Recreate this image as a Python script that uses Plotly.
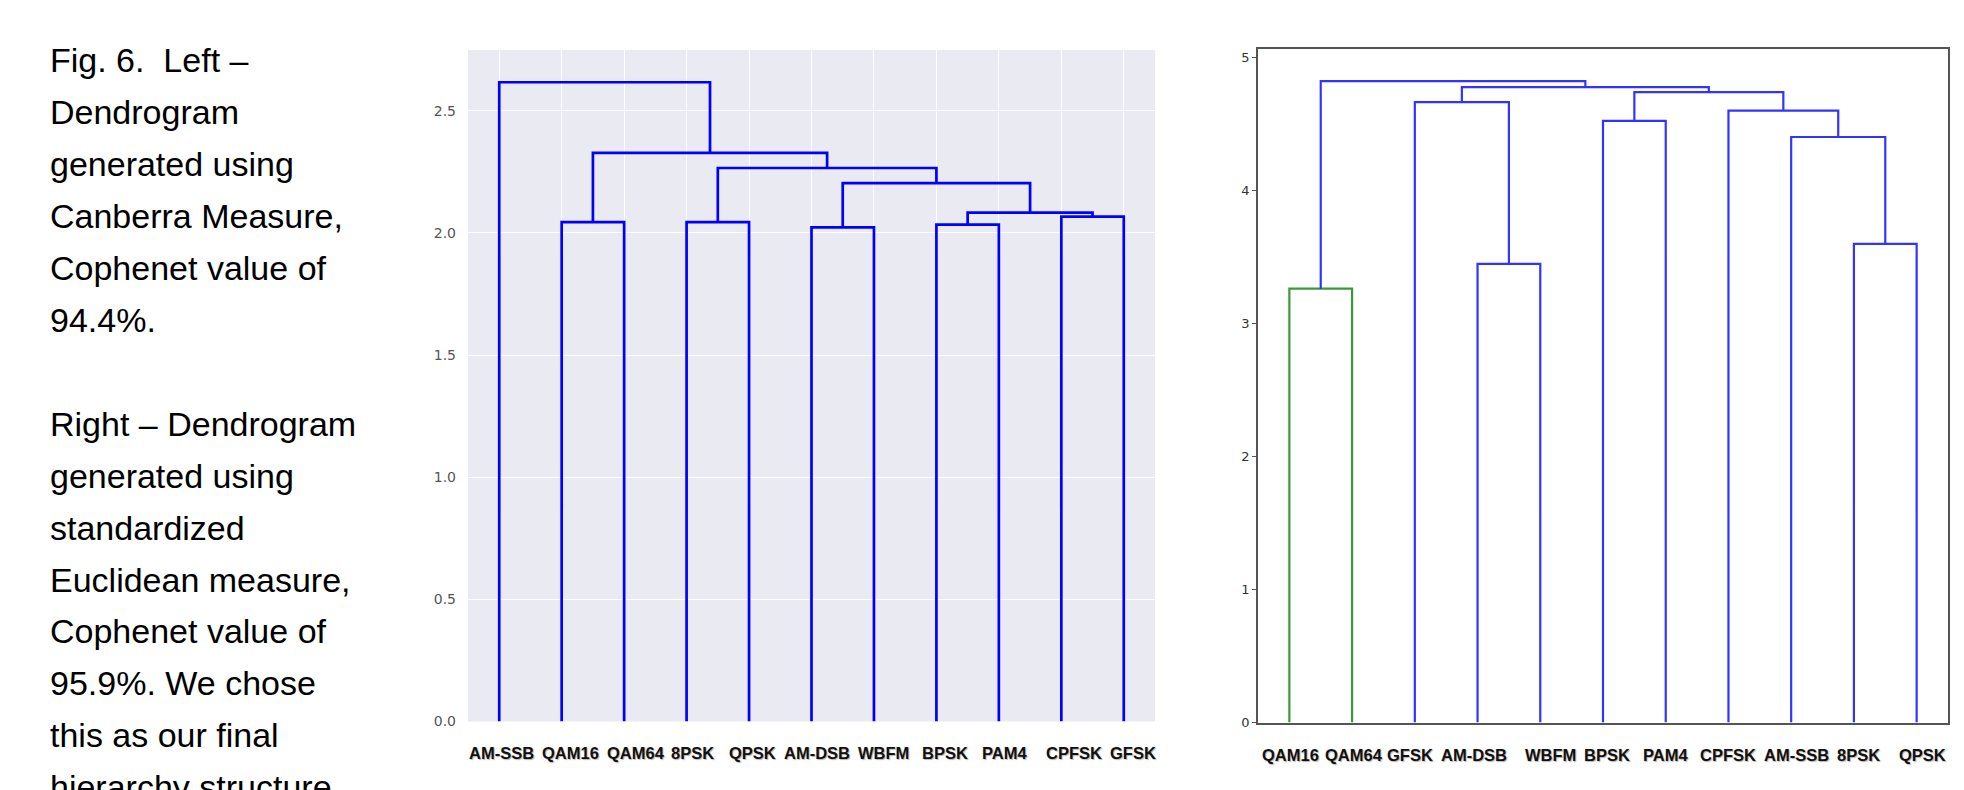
import plotly.graph_objects as go

# ---------------- data ----------------
left_leaves = ["AM-SSB", "QAM16", "QAM64", "8PSK", "QPSK", "AM-DSB",
               "WBFM", "BPSK", "PAM4", "CPFSK", "GFSK"]
# label centres as placed under the leaves (x data units)
left_label_x = [5.4, 16.4, 26.9, 35.9, 45.5, 55.8, 66.5, 76.4, 85.9, 97.0, 106.4]
# merges: child a, child b (leaf index or 11+ merge id), height
left_merge_a = [5, 7, 1, 3, 9, 12, 11, 14, 13, 0]
left_merge_b = [6, 8, 2, 4, 10, 15, 16, 17, 18, 19]
left_merge_h = [2.023, 2.034, 2.044, 2.044, 2.067, 2.083, 2.204, 2.266, 2.328, 2.617]
left_merge_c = ["b"] * 10
left_yticks = [0.0, 0.5, 1.0, 1.5, 2.0, 2.5]

right_leaves = ["QAM16", "QAM64", "GFSK", "AM-DSB", "WBFM", "BPSK",
                "PAM4", "CPFSK", "AM-SSB", "8PSK", "QPSK"]
right_label_x = [5.15, 15.3, 24.3, 34.4, 46.6, 55.7, 65.0, 75.0, 85.9, 95.8, 105.9]
right_merge_a = [0, 3, 9, 8, 5, 7, 2, 15, 17, 11]
right_merge_b = [1, 4, 10, 13, 6, 14, 12, 16, 18, 19]
right_merge_h = [3.263, 3.449, 3.600, 4.404, 4.526, 4.602, 4.667, 4.742, 4.779, 4.825]
right_merge_c = ["g", "b", "b", "b", "b", "b", "b", "b", "b", "b"]
right_yticks = [0, 1, 2, 3, 4, 5]

caption_lines = [
    "Fig. 6.\u00a0 Left \u2013",
    "Dendrogram",
    "generated using",
    "Canberra Measure,",
    "Cophenet value of",
    "94.4%.",
    "",
    "Right \u2013 Dendrogram",
    "generated using",
    "standardized",
    "Euclidean measure,",
    "Cophenet value of",
    "95.9%. We chose",
    "this as our final",
    "hierarchy structure.",
]

W, H = 1964, 790


def link_paths(leaves, ma, mb, mh, mc):
    n = len(leaves)
    xpos = {i: 5 + 10 * i for i in range(n)}
    ypos = {i: 0.0 for i in range(n)}
    paths = {}
    for k, (a, b, h, c) in enumerate(zip(ma, mb, mh, mc)):
        xa, xb = xpos[a], xpos[b]
        ya, yb = ypos[a], ypos[b]
        xs, ys = paths.setdefault(c, ([], []))
        xs += [xa, xa, xb, xb, None]
        ys += [ya, h, h, yb, None]
        xpos[n + k] = (xa + xb) / 2
        ypos[n + k] = h
    return paths, [5 + 10 * i for i in range(n)]


fig = go.Figure()

label_font = dict(family="Liberation Sans, Arial, sans-serif",
                  size=16.5, color="#111111", weight="bold",
                  shadow="1px 1px 1px rgba(0,0,0,0.3)")

# ---- left dendrogram ----
lp, lx = link_paths(left_leaves, left_merge_a, left_merge_b, left_merge_h, left_merge_c)
for c, (xs, ys) in lp.items():
    fig.add_trace(go.Scatter(x=xs, y=ys, mode="lines", xaxis="x", yaxis="y",
                             line=dict(color="#0000ff", width=2.7), hoverinfo="skip",
                             showlegend=False))

# ---- right dendrogram ----
rp, rx = link_paths(right_leaves, right_merge_a, right_merge_b, right_merge_h, right_merge_c)
rcol = {"b": "#3333ff", "g": "#3a9a3a"}
for c, (xs, ys) in rp.items():
    fig.add_trace(go.Scatter(x=xs, y=ys, mode="lines", xaxis="x2", yaxis="y2",
                             line=dict(color=rcol[c], width=2.2), hoverinfo="skip",
                             showlegend=False))

annos = []
# leaf labels
for t, xv in zip(left_leaves, left_label_x):
    annos.append(dict(text=t, x=xv, xref="x", y=1 - 752.5 / H, yref="paper",
                      xanchor="center", yanchor="middle", showarrow=False, font=label_font))
for t, xv in zip(right_leaves, right_label_x):
    annos.append(dict(text=t, x=xv, xref="x2", y=1 - 754.5 / H, yref="paper",
                      xanchor="center", yanchor="middle", showarrow=False, font=label_font))

# caption text
base0 = 71.5
pitch = 51.9
for i, t in enumerate(caption_lines):
    if not t:
        continue
    baseline = base0 + pitch * i
    yc = baseline - 11
    annos.append(dict(text=t, x=48 / W, y=1 - yc / H, xref="paper", yref="paper",
                      xanchor="left", yanchor="middle", showarrow=False,
                      font=dict(family="Liberation Sans, Arial, sans-serif", size=34, color="#000000")))

fig.update_layout(
    width=W, height=H,
    margin=dict(l=0, r=0, t=0, b=0),
    paper_bgcolor="white",
    plot_bgcolor="white",
    annotations=annos,
    xaxis=dict(domain=[468 / W, 1155 / W], range=[0, 110], tickvals=lx, showticklabels=False,
               showgrid=True, gridcolor="white", gridwidth=1.3, zeroline=False, showline=False,
               ticks="", automargin=False, fixedrange=True),
    yaxis=dict(domain=[(H - 721.5) / H, (H - 50) / H], range=[0, 2.749], tickvals=left_yticks,
               ticktext=["%.1f" % v for v in left_yticks],
               showgrid=True, gridcolor="white", gridwidth=1.3, zeroline=False, showline=False,
               ticks="", tickfont=dict(family="DejaVu Sans, sans-serif", size=14, color="#555555"),
               ticklabelstandoff=11, automargin=False),
    xaxis2=dict(domain=[1258 / W, 1948 / W], range=[0, 110], anchor="y2", tickvals=rx,
                showticklabels=False, showgrid=False, zeroline=False, showline=True, mirror=True,
                linecolor="#555555", linewidth=1.5, ticks="", automargin=False),
    yaxis2=dict(domain=[(H - 722.5) / H, (H - 49) / H], range=[0, 5.066], anchor="x2",
                tickvals=right_yticks, showgrid=False, zeroline=False, showline=True, mirror=True,
                linecolor="#555555", linewidth=1.5, ticks="outside", ticklen=4, tickcolor="#555555",
                tickfont=dict(family="DejaVu Sans, sans-serif", size=13, color="#333333"),
                automargin=False),
    shapes=[dict(type="rect", xref="paper", yref="paper", x0=468 / W, x1=1155 / W,
                 y0=(H - 721.5) / H, y1=(H - 50) / H, fillcolor="#eaeaf2", line=dict(width=0),
                 layer="below")],
)

fig.write_html("out.html", config={"displayModeBar": False},
               post_script="document.body.style.margin='0';document.body.style.overflow='hidden';")
